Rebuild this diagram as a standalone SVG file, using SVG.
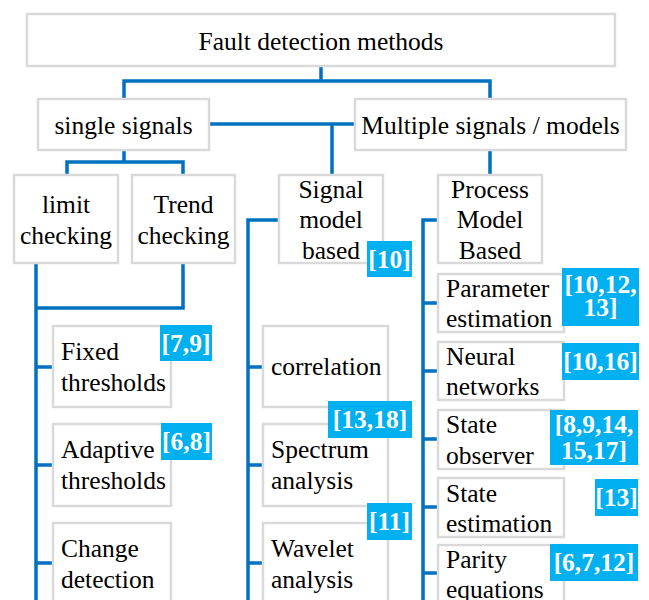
<svg xmlns="http://www.w3.org/2000/svg" width="649" height="600" viewBox="0 0 649 600">
<style>
.box{fill:#fff;stroke:#d9d9d9;stroke-width:2.5}
.t{font-size:25.5px;fill:#000}
.c{text-anchor:middle}
.badge{fill:#00b0f0}
.bt{font-size:25.5px;font-weight:bold;fill:#fff;text-anchor:middle}
.conn{fill:none;stroke:#0070c0;stroke-width:3.5}
</style>
<rect width="649" height="600" fill="#fff"/>
<g id="connectors" class="conn">
<path d="M321,66V81M124,99V81H490V99"/>
<path d="M209,124H355M332,124V175"/>
<path d="M490,150V175"/>
<path d="M124,150V162M67,175V162H183V175"/>
<path d="M36,263V600M183,263V308H36"/>
<path d="M36,367H53M36,465H53M36,563H53"/>
<path d="M279,220H248V600M248,367H263M248,465H263M248,563H263"/>
<path d="M438,220H423V600M423,303H438M423,371H438M423,439H438M423,507H438M423,573H438"/>
</g>
<g font-family="'Liberation Serif', 'Times New Roman', 'DejaVu Serif', serif">
<g id="root"><rect class="box" x="27" y="14" width="588" height="52"/><text class="t c" x="321" y="50">Fault detection methods</text></g>
<g id="single"><rect class="box" x="38" y="99" width="171" height="51"/><text class="t c" x="123.5" y="134">single signals</text></g>
<g id="multiple"><rect class="box" x="355" y="99" width="271" height="51"/><text class="t c" x="490.5" y="134">Multiple signals / models</text></g>
<g id="limit"><rect class="box" x="14" y="175" width="104" height="88"/><text class="t c" x="66" y="213">limit</text><text class="t c" x="66" y="244">checking</text></g>
<g id="trend"><rect class="box" x="132" y="175" width="103" height="88"/><text class="t c" x="183.5" y="213">Trend</text><text class="t c" x="183.5" y="244">checking</text></g>
<g id="signalmodel"><rect class="box" x="279" y="175" width="104" height="88"/><text class="t c" x="331" y="198">Signal</text><text class="t c" x="331" y="228">model</text><text class="t c" x="331" y="259">based</text><rect class="badge" x="367" y="241" width="45" height="36"/><text class="bt" x="389.5" y="268">[10]</text></g>
<g id="process"><rect class="box" x="438" y="175" width="104" height="88"/><text class="t c" x="490" y="198">Process</text><text class="t c" x="490" y="228">Model</text><text class="t c" x="490" y="259">Based</text></g>
<g id="fixed"><rect class="box" x="53" y="326" width="118" height="81"/><text class="t" x="61" y="360">Fixed</text><text class="t" x="61" y="391">thresholds</text><rect class="badge" x="160" y="325" width="52" height="36"/><text class="bt" x="186" y="352">[7,9]</text></g>
<g id="adaptive"><rect class="box" x="53" y="424" width="118" height="82"/><text class="t" x="61" y="458">Adaptive</text><text class="t" x="61" y="489">thresholds</text><rect class="badge" x="161" y="423" width="51" height="37"/><text class="bt" x="186.5" y="450">[6,8]</text></g>
<g id="change"><rect class="box" x="53" y="523" width="118" height="90"/><text class="t" x="61" y="557">Change</text><text class="t" x="61" y="588">detection</text></g>
<g id="correlation"><rect class="box" x="263" y="326" width="125" height="81"/><text class="t" x="271" y="375">correlation</text></g>
<g id="spectrum"><rect class="box" x="263" y="424" width="125" height="82"/><text class="t" x="271" y="458">Spectrum</text><text class="t" x="271" y="489">analysis</text><rect class="badge" x="328" y="401" width="84" height="37"/><text class="bt" x="370" y="428">[13,18]</text></g>
<g id="wavelet"><rect class="box" x="263" y="523" width="125" height="90"/><text class="t" x="271" y="557">Wavelet</text><text class="t" x="271" y="588">analysis</text><rect class="badge" x="367" y="503" width="45" height="37"/><text class="bt" x="389.5" y="530">[11]</text></g>
<g id="parameter"><rect class="box" x="438" y="274" width="126" height="58"/><text class="t" x="446" y="297">Parameter</text><text class="t" x="446" y="327">estimation</text><rect class="badge" x="562" y="268" width="77" height="58"/><text class="bt"><tspan x="600.5" y="293">[10,12,</tspan><tspan x="600.5" y="316">13]</tspan></text></g>
<g id="neural"><rect class="box" x="438" y="342" width="126" height="58"/><text class="t" x="446" y="365">Neural</text><text class="t" x="446" y="395">networks</text><rect class="badge" x="562" y="343" width="77" height="37"/><text class="bt" x="600.5" y="370">[10,16]</text></g>
<g id="observer"><rect class="box" x="438" y="410" width="126" height="59"/><text class="t" x="446" y="433">State</text><text class="t" x="446" y="464">observer</text><rect class="badge" x="550" y="410" width="88" height="55"/><text class="bt"><tspan x="594" y="433">[8,9,14,</tspan><tspan x="594" y="459">15,17]</tspan></text></g>
<g id="estimation"><rect class="box" x="438" y="478" width="126" height="59"/><text class="t" x="446" y="502">State</text><text class="t" x="446" y="532">estimation</text><rect class="badge" x="595" y="479" width="43" height="37"/><text class="bt" x="616.5" y="506">[13]</text></g>
<g id="parity"><rect class="box" x="438" y="545" width="126" height="65"/><text class="t" x="446" y="568">Parity</text><text class="t" x="446" y="598">equations</text><rect class="badge" x="550" y="544" width="88" height="37"/><text class="bt" x="594" y="571">[6,7,12]</text></g>
</g>
</svg>
